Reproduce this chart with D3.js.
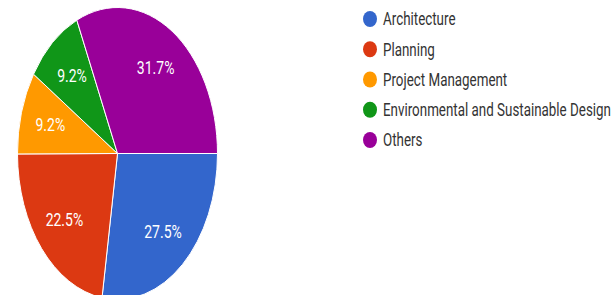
<!DOCTYPE html>
<html>
<head>
<meta charset="utf-8">
<script src="https://cdn.jsdelivr.net/npm/d3@7"></script>
<style>
  body { margin: 0; background: #fff; }
  svg { display: block; font-family: Roboto, Arial, sans-serif; }
</style>
</head>
<body>
<svg id="chart" width="613" height="295"></svg>
<script>
// data
const categories = ['Architecture', 'Planning', 'Project Management', 'Environmental and Sustainable Design', 'Others'];
const shares = [27.5, 22.5, 9.2, 9.2, 31.7];
const colors = ['#3366cc', '#dc3912', '#ff9900', '#109618', '#990099'];

const svg = d3.select('#chart');
const cx = 117.5, cy = 153.5, r = 100, sy = 1.46; // the picture is stretched vertically
const textSy = 1.3;

const pie = d3.pie().sort(null).value(d => d).startAngle(Math.PI / 2).endAngle(Math.PI / 2 + 2 * Math.PI);
const arcs = pie(shares);
const arc = d3.arc().innerRadius(0).outerRadius(r);
const labelArc = d3.arc().innerRadius(r * 0.7).outerRadius(r * 0.7);

const g = svg.append('g').attr('transform', `translate(${cx},${cy}) scale(1,${sy})`);
g.selectAll('path')
  .data(arcs)
  .enter()
  .append('path')
  .attr('d', arc)
  .attr('fill', (d, i) => colors[i])
  .attr('stroke', '#fff')
  .attr('stroke-width', 1)
  .attr('vector-effect', 'non-scaling-stroke');

// percentage labels
svg.append('g')
  .selectAll('text')
  .data(arcs)
  .enter()
  .append('text')
  .attr('transform', d => {
    const [x, y] = labelArc.centroid(d);
    return `translate(${cx + x},${cy + y * sy}) scale(1,${textSy})`;
  })
  .attr('text-anchor', 'middle')
  .attr('dy', '0.35em')
  .attr('fill', '#fff')
  .style('font-size', '14px')
  .text(d => d.value.toFixed(1) + '%');

// legend
const y = d3.scalePoint().domain(categories).range([19, 140]);
const legend = svg.append('g')
  .selectAll('g')
  .data(categories)
  .enter()
  .append('g')
  .attr('transform', d => `translate(370,${y(d)})`);

legend.append('ellipse')
  .attr('rx', 7)
  .attr('ry', 7 * 1.15)
  .attr('fill', (d, i) => colors[i]);

const labels = legend.append('text')
  .attr('dy', '0.35em')
  .attr('fill', '#333')
  .style('font-size', '14px')
  .text(d => d);

// legend text is squeezed sideways in the reference: longest label spans ~228px
const longest = d3.max(labels.nodes(), n => n.getComputedTextLength());
const sx = Math.min(1, 228 / longest);
labels.attr('transform', `translate(13,0) scale(${sx},${textSy})`);
</script>
</body>
</html>
